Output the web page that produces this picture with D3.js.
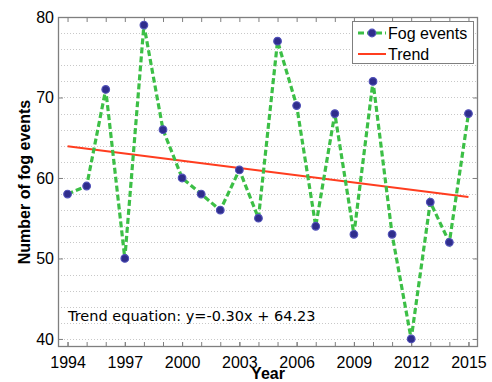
<!DOCTYPE html>
<html>
<head>
<meta charset="utf-8">
<script src="https://cdn.jsdelivr.net/npm/d3@7"></script>
<style>
  html, body { margin: 0; padding: 0; background: #fff; }
  svg { display: block; }
</style>
</head>
<body>
<svg id="chart" width="492" height="382"></svg>
<script>
// Annual fog event counts
const years = [1994, 1995, 1996, 1997, 1998, 1999, 2000, 2001, 2002, 2003, 2004,
               2005, 2006, 2007, 2008, 2009, 2010, 2011, 2012, 2013, 2014, 2015];
const fogEvents = [58, 59, 71, 50, 79, 66, 60, 58, 56, 61, 55,
                   77, 69, 54, 68, 53, 72, 53, 40, 57, 52, 68];
// Linear trend y = slope * x + intercept, x = 1 for the first year
const trendSlope = -0.30;
const trendIntercept = 64.23;
const xTickYears = [1994, 1997, 2000, 2003, 2006, 2009, 2012, 2015];
const yTickValues = [40, 50, 60, 70, 80];
const yGridValues = d3.range(40, 81, 2);

const svg = d3.select("#chart");
const margin = { left: 58, right: 14, top: 17, bottom: 35 };
const W = 492, H = 382;
const x0 = margin.left, x1 = W - margin.right;
const y0 = margin.top, y1 = H - margin.bottom;

const x = d3.scaleLinear().domain([1993.5, 2015.5]).range([x0, x1]);
const y = d3.scaleLinear().domain([39, 80]).range([y1, y0]);

const axisColor = "#7f7f7f";
const font = "'Liberation Sans', Arial, sans-serif";

// dotted horizontal grid
svg.append("g").selectAll("line").data(yGridValues).join("line")
  .attr("x1", x0).attr("x2", x1)
  .attr("y1", d => Math.round(y(d)) + 0.5).attr("y2", d => Math.round(y(d)) + 0.5)
  .attr("stroke", "#c8c8c8").attr("stroke-width", 1)
  .attr("stroke-dasharray", "1,2");

// axes
const bottomAxis = svg.append("g").attr("transform", `translate(0,${y1})`)
  .call(d3.axisBottom(x).tickValues(xTickYears).tickFormat(d3.format("d")).tickSizeInner(-5).tickSizeOuter(0).tickPadding(10));
const minorTop = svg.append("g").attr("transform", `translate(0,${y0})`)
  .call(d3.axisTop(x).tickValues(years).tickFormat("").tickSizeInner(-5).tickSizeOuter(0));
const minorBottom = svg.append("g").attr("transform", `translate(0,${y1})`)
  .call(d3.axisBottom(x).tickValues(years).tickFormat("").tickSizeInner(-5).tickSizeOuter(0));
const leftAxis = svg.append("g").attr("transform", `translate(${x0},0)`)
  .call(d3.axisLeft(y).tickValues(yTickValues).tickSizeInner(-5).tickSizeOuter(0).tickPadding(4));
const rightAxis = svg.append("g").attr("transform", `translate(${x1},0)`)
  .call(d3.axisRight(y).tickValues(yTickValues).tickFormat("").tickSizeInner(-5).tickSizeOuter(0));

[bottomAxis, minorTop, minorBottom, leftAxis, rightAxis].forEach(g => {
  g.select(".domain").remove();
  g.selectAll(".tick line").attr("stroke", axisColor);
  g.selectAll("text").attr("fill", "#000").style("font-family", font).style("font-size", "16px");
});

// plot frame
svg.append("rect")
  .attr("x", x0 + 0.5).attr("y", y0 + 0.5)
  .attr("width", x1 - x0 - 1).attr("height", y1 - y0 - 1)
  .attr("fill", "none").attr("stroke", axisColor).attr("stroke-width", 1.3);

// trend line
const trendData = years.map((yr, i) => ({ yr, v: trendSlope * (i + 1) + trendIntercept }));
const trendColor = "#ff3d1f";
svg.append("path").datum([trendData[0], trendData[trendData.length - 1]])
  .attr("d", d3.line().x(d => x(d.yr)).y(d => y(d.v)))
  .attr("fill", "none").attr("stroke", trendColor).attr("stroke-width", 2);

// fog events series
const lineColor = "#3cbf46";
const series = years.map((yr, i) => ({ yr, v: fogEvents[i] }));
svg.append("path").datum(series)
  .attr("d", d3.line().x(d => x(d.yr)).y(d => y(d.v)))
  .attr("fill", "none").attr("stroke", lineColor).attr("stroke-width", 3.2)
  .attr("stroke-dasharray", "6,3");

const markerFill = "#2f2d8c";
const markerStroke = "#5050b8";
svg.append("g").selectAll("circle").data(series).join("circle")
  .attr("cx", d => x(d.yr)).attr("cy", d => y(d.v)).attr("r", 3.8)
  .attr("fill", markerFill).attr("stroke", markerStroke).attr("stroke-width", 1.2);

// trend equation text
svg.append("text")
  .attr("x", 68).attr("y", 321)
  .style("font-family", "'DejaVu Sans', sans-serif").style("font-size", "14.5px")
  .text(`Trend equation: y=${trendSlope.toFixed(2)}x + ${trendIntercept.toFixed(2)}`);

// axis titles
svg.append("text")
  .attr("transform", `translate(30,${(y0 + y1) / 2}) rotate(-90)`)
  .attr("text-anchor", "middle")
  .style("font-family", font).style("font-size", "16px").style("font-weight", "bold")
  .text("Number of fog events");
svg.append("text")
  .attr("x", (x0 + x1) / 2).attr("y", 379)
  .attr("text-anchor", "middle")
  .style("font-family", font).style("font-size", "16px").style("font-weight", "bold")
  .text("Year");

// legend
const lg = svg.append("g");
lg.append("rect").attr("x", 352.5).attr("y", 21.5).attr("width", 121).attr("height", 42)
  .attr("fill", "#fff").attr("stroke", axisColor).attr("stroke-width", 1);
lg.append("line").attr("x1", 358).attr("x2", 386).attr("y1", 33).attr("y2", 33)
  .attr("stroke", lineColor).attr("stroke-width", 3.2).attr("stroke-dasharray", "6,3");
lg.append("circle").attr("cx", 372).attr("cy", 33).attr("r", 3.8)
  .attr("fill", markerFill).attr("stroke", markerStroke).attr("stroke-width", 1.2);
lg.append("text").attr("x", 388).attr("y", 39)
  .style("font-family", font).style("font-size", "16px").text("Fog events");
lg.append("line").attr("x1", 358).attr("x2", 386).attr("y1", 54).attr("y2", 54)
  .attr("stroke", trendColor).attr("stroke-width", 2);
lg.append("text").attr("x", 388).attr("y", 60)
  .style("font-family", font).style("font-size", "16px").text("Trend");
</script>
</body>
</html>
